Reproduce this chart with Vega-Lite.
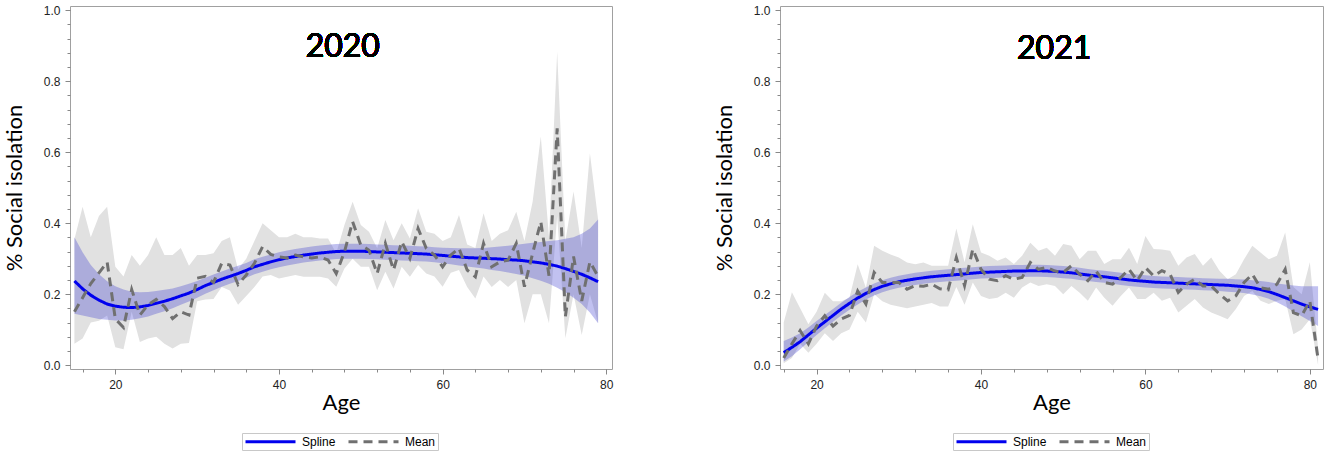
{
  "$schema": "https://vega.github.io/schema/vega-lite/v6.json",
  "padding": {"left": 2, "top": 3, "right": 5, "bottom": 0},
  "bounds": "flush",
  "spacing": 168,
  "config": {
    "view": {"stroke": "#a0a0a0", "strokeWidth": 1},
    "axis": {
      "grid": false,
      "domain": false,
      "tickColor": "#888888",
      "labelFont": "Liberation Sans",
      "labelFontSize": 12,
      "labelColor": "#222222",
      "labelOverlap": false,
      "labelFlush": false,
      "labelPadding": 5,
      "titleFont": "Lato",
      "titleFontSize": 22,
      "titleFontWeight": "normal",
      "titleColor": "#000000"
    },
    "legend": {
      "orient": "none",
      "legendY": 427,
      "direction": "horizontal",
      "title": null,
      "symbolType": "M-1,0H9",
      "symbolSize": 100,
      "symbolStrokeWidth": 3,
      "labelFont": "Liberation Sans",
      "labelFontSize": 12,
      "labelColor": "#000000",
      "labelOffset": 45,
      "columnPadding": 6,
      "strokeColor": "#c8c8c8",
      "fillColor": "#ffffff",
      "padding": 2
    }
  },
  "datasets": {
    "y2020": [
      {"age": 15, "mean": 0.15, "mlo": 0.06, "mhi": 0.355, "fit": 0.237, "flo": 0.145, "fhi": 0.36},
      {"age": 16, "mean": 0.19, "mlo": 0.075, "mhi": 0.446, "fit": 0.215, "flo": 0.14, "fhi": 0.318},
      {"age": 17, "mean": 0.23, "mlo": 0.12, "mhi": 0.36, "fit": 0.197, "flo": 0.135, "fhi": 0.282},
      {"age": 18, "mean": 0.26, "mlo": 0.125, "mhi": 0.42, "fit": 0.183, "flo": 0.13, "fhi": 0.256},
      {"age": 19, "mean": 0.29, "mlo": 0.14, "mhi": 0.446, "fit": 0.172, "flo": 0.128, "fhi": 0.236},
      {"age": 20, "mean": 0.13, "mlo": 0.05, "mhi": 0.277, "fit": 0.166, "flo": 0.126, "fhi": 0.222},
      {"age": 21, "mean": 0.106, "mlo": 0.045, "mhi": 0.25, "fit": 0.163, "flo": 0.126, "fhi": 0.213},
      {"age": 22, "mean": 0.213, "mlo": 0.15, "mhi": 0.31, "fit": 0.162, "flo": 0.128, "fhi": 0.207},
      {"age": 23, "mean": 0.141, "mlo": 0.065, "mhi": 0.28, "fit": 0.164, "flo": 0.132, "fhi": 0.205},
      {"age": 24, "mean": 0.17, "mlo": 0.075, "mhi": 0.31, "fit": 0.168, "flo": 0.137, "fhi": 0.206},
      {"age": 25, "mean": 0.185, "mlo": 0.08, "mhi": 0.36, "fit": 0.174, "flo": 0.145, "fhi": 0.209},
      {"age": 26, "mean": 0.165, "mlo": 0.06, "mhi": 0.31, "fit": 0.18, "flo": 0.152, "fhi": 0.212},
      {"age": 27, "mean": 0.131, "mlo": 0.047, "mhi": 0.31, "fit": 0.187, "flo": 0.16, "fhi": 0.216},
      {"age": 28, "mean": 0.15, "mlo": 0.06, "mhi": 0.33, "fit": 0.195, "flo": 0.17, "fhi": 0.222},
      {"age": 29, "mean": 0.141, "mlo": 0.062, "mhi": 0.28, "fit": 0.203, "flo": 0.179, "fhi": 0.229},
      {"age": 30, "mean": 0.245, "mlo": 0.18, "mhi": 0.31, "fit": 0.213, "flo": 0.19, "fhi": 0.237},
      {"age": 31, "mean": 0.25, "mlo": 0.185, "mhi": 0.31, "fit": 0.224, "flo": 0.201, "fhi": 0.246},
      {"age": 32, "mean": 0.233, "mlo": 0.186, "mhi": 0.315, "fit": 0.233, "flo": 0.211, "fhi": 0.255},
      {"age": 33, "mean": 0.287, "mlo": 0.22, "mhi": 0.35, "fit": 0.242, "flo": 0.221, "fhi": 0.264},
      {"age": 34, "mean": 0.282, "mlo": 0.21, "mhi": 0.36, "fit": 0.25, "flo": 0.229, "fhi": 0.272},
      {"age": 35, "mean": 0.227, "mlo": 0.17, "mhi": 0.27, "fit": 0.258, "flo": 0.237, "fhi": 0.28},
      {"age": 36, "mean": 0.254, "mlo": 0.195, "mhi": 0.3, "fit": 0.267, "flo": 0.246, "fhi": 0.288},
      {"age": 37, "mean": 0.287, "mlo": 0.22, "mhi": 0.35, "fit": 0.277, "flo": 0.256, "fhi": 0.298},
      {"age": 38, "mean": 0.334, "mlo": 0.25, "mhi": 0.4, "fit": 0.284, "flo": 0.263, "fhi": 0.305},
      {"age": 39, "mean": 0.312, "mlo": 0.254, "mhi": 0.38, "fit": 0.291, "flo": 0.27, "fhi": 0.312},
      {"age": 40, "mean": 0.305, "mlo": 0.244, "mhi": 0.36, "fit": 0.297, "flo": 0.276, "fhi": 0.318},
      {"age": 41, "mean": 0.302, "mlo": 0.249, "mhi": 0.36, "fit": 0.302, "flo": 0.281, "fhi": 0.323},
      {"age": 42, "mean": 0.31, "mlo": 0.254, "mhi": 0.37, "fit": 0.306, "flo": 0.285, "fhi": 0.327},
      {"age": 43, "mean": 0.305, "mlo": 0.249, "mhi": 0.36, "fit": 0.31, "flo": 0.289, "fhi": 0.331},
      {"age": 44, "mean": 0.302, "mlo": 0.249, "mhi": 0.36, "fit": 0.313, "flo": 0.292, "fhi": 0.334},
      {"age": 45, "mean": 0.305, "mlo": 0.249, "mhi": 0.357, "fit": 0.316, "flo": 0.295, "fhi": 0.337},
      {"age": 46, "mean": 0.296, "mlo": 0.244, "mhi": 0.357, "fit": 0.318, "flo": 0.297, "fhi": 0.339},
      {"age": 47, "mean": 0.258, "mlo": 0.221, "mhi": 0.315, "fit": 0.32, "flo": 0.299, "fhi": 0.341},
      {"age": 48, "mean": 0.319, "mlo": 0.272, "mhi": 0.395, "fit": 0.321, "flo": 0.3, "fhi": 0.342},
      {"age": 49, "mean": 0.404, "mlo": 0.3, "mhi": 0.46, "fit": 0.321, "flo": 0.3, "fhi": 0.342},
      {"age": 50, "mean": 0.338, "mlo": 0.277, "mhi": 0.395, "fit": 0.321, "flo": 0.3, "fhi": 0.342},
      {"age": 51, "mean": 0.324, "mlo": 0.277, "mhi": 0.376, "fit": 0.32, "flo": 0.299, "fhi": 0.341},
      {"age": 52, "mean": 0.258, "mlo": 0.211, "mhi": 0.329, "fit": 0.319, "flo": 0.298, "fhi": 0.34},
      {"age": 53, "mean": 0.343, "mlo": 0.263, "mhi": 0.409, "fit": 0.318, "flo": 0.297, "fhi": 0.339},
      {"age": 54, "mean": 0.268, "mlo": 0.216, "mhi": 0.352, "fit": 0.317, "flo": 0.296, "fhi": 0.338},
      {"age": 55, "mean": 0.348, "mlo": 0.277, "mhi": 0.4, "fit": 0.316, "flo": 0.295, "fhi": 0.337},
      {"age": 56, "mean": 0.301, "mlo": 0.249, "mhi": 0.357, "fit": 0.315, "flo": 0.294, "fhi": 0.336},
      {"age": 57, "mean": 0.385, "mlo": 0.282, "mhi": 0.442, "fit": 0.314, "flo": 0.293, "fhi": 0.335},
      {"age": 58, "mean": 0.329, "mlo": 0.258, "mhi": 0.376, "fit": 0.313, "flo": 0.292, "fhi": 0.334},
      {"age": 59, "mean": 0.31, "mlo": 0.25, "mhi": 0.37, "fit": 0.311, "flo": 0.29, "fhi": 0.332},
      {"age": 60, "mean": 0.277, "mlo": 0.221, "mhi": 0.35, "fit": 0.309, "flo": 0.287, "fhi": 0.331},
      {"age": 61, "mean": 0.31, "mlo": 0.26, "mhi": 0.36, "fit": 0.307, "flo": 0.284, "fhi": 0.33},
      {"age": 62, "mean": 0.329, "mlo": 0.268, "mhi": 0.423, "fit": 0.305, "flo": 0.281, "fhi": 0.329},
      {"age": 63, "mean": 0.268, "mlo": 0.22, "mhi": 0.34, "fit": 0.303, "flo": 0.278, "fhi": 0.329},
      {"age": 64, "mean": 0.249, "mlo": 0.188, "mhi": 0.33, "fit": 0.302, "flo": 0.275, "fhi": 0.329},
      {"age": 65, "mean": 0.343, "mlo": 0.25, "mhi": 0.428, "fit": 0.301, "flo": 0.272, "fhi": 0.33},
      {"age": 66, "mean": 0.277, "mlo": 0.22, "mhi": 0.35, "fit": 0.3, "flo": 0.268, "fhi": 0.332},
      {"age": 67, "mean": 0.291, "mlo": 0.24, "mhi": 0.37, "fit": 0.299, "flo": 0.265, "fhi": 0.334},
      {"age": 68, "mean": 0.296, "mlo": 0.22, "mhi": 0.38, "fit": 0.297, "flo": 0.261, "fhi": 0.336},
      {"age": 69, "mean": 0.343, "mlo": 0.24, "mhi": 0.432, "fit": 0.296, "flo": 0.257, "fhi": 0.339},
      {"age": 70, "mean": 0.221, "mlo": 0.118, "mhi": 0.35, "fit": 0.294, "flo": 0.252, "fhi": 0.342},
      {"age": 71, "mean": 0.315, "mlo": 0.2, "mhi": 0.46, "fit": 0.291, "flo": 0.245, "fhi": 0.345},
      {"age": 72, "mean": 0.404, "mlo": 0.2, "mhi": 0.644, "fit": 0.288, "flo": 0.238, "fhi": 0.347},
      {"age": 73, "mean": 0.252, "mlo": 0.118, "mhi": 0.36, "fit": 0.284, "flo": 0.229, "fhi": 0.35},
      {"age": 74, "mean": 0.667, "mlo": 0.42, "mhi": 0.883, "fit": 0.279, "flo": 0.218, "fhi": 0.352},
      {"age": 75, "mean": 0.136, "mlo": 0.076, "mhi": 0.35, "fit": 0.272, "flo": 0.205, "fhi": 0.356},
      {"age": 76, "mean": 0.306, "mlo": 0.2, "mhi": 0.489, "fit": 0.264, "flo": 0.19, "fhi": 0.36},
      {"age": 77, "mean": 0.181, "mlo": 0.085, "mhi": 0.33, "fit": 0.256, "flo": 0.172, "fhi": 0.37},
      {"age": 78, "mean": 0.291, "mlo": 0.2, "mhi": 0.597, "fit": 0.246, "flo": 0.148, "fhi": 0.385},
      {"age": 79, "mean": 0.25, "mlo": 0.118, "mhi": 0.41, "fit": 0.235, "flo": 0.118, "fhi": 0.41}
    ],
    "y2021": [
      {"age": 16, "mean": 0.02, "mlo": 0.005, "mhi": 0.12, "fit": 0.035, "flo": 0.01, "fhi": 0.068},
      {"age": 17, "mean": 0.06, "mlo": 0.02, "mhi": 0.205, "fit": 0.05, "flo": 0.025, "fhi": 0.078},
      {"age": 18, "mean": 0.097, "mlo": 0.06, "mhi": 0.16, "fit": 0.066, "flo": 0.045, "fhi": 0.09},
      {"age": 19, "mean": 0.06, "mlo": 0.035, "mhi": 0.115, "fit": 0.085, "flo": 0.065, "fhi": 0.106},
      {"age": 20, "mean": 0.11, "mlo": 0.06, "mhi": 0.15, "fit": 0.104, "flo": 0.085, "fhi": 0.124},
      {"age": 21, "mean": 0.139, "mlo": 0.09, "mhi": 0.204, "fit": 0.122, "flo": 0.104, "fhi": 0.141},
      {"age": 22, "mean": 0.11, "mlo": 0.068, "mhi": 0.18, "fit": 0.14, "flo": 0.122, "fhi": 0.158},
      {"age": 23, "mean": 0.13, "mlo": 0.09, "mhi": 0.18, "fit": 0.158, "flo": 0.14, "fhi": 0.176},
      {"age": 24, "mean": 0.14, "mlo": 0.1, "mhi": 0.19, "fit": 0.174, "flo": 0.156, "fhi": 0.192},
      {"age": 25, "mean": 0.209, "mlo": 0.15, "mhi": 0.284, "fit": 0.189, "flo": 0.171, "fhi": 0.207},
      {"age": 26, "mean": 0.172, "mlo": 0.12, "mhi": 0.218, "fit": 0.202, "flo": 0.185, "fhi": 0.219},
      {"age": 27, "mean": 0.261, "mlo": 0.2, "mhi": 0.336, "fit": 0.213, "flo": 0.196, "fhi": 0.23},
      {"age": 28, "mean": 0.233, "mlo": 0.18, "mhi": 0.322, "fit": 0.222, "flo": 0.205, "fhi": 0.239},
      {"age": 29, "mean": 0.233, "mlo": 0.17, "mhi": 0.312, "fit": 0.229, "flo": 0.212, "fhi": 0.246},
      {"age": 30, "mean": 0.233, "mlo": 0.165, "mhi": 0.303, "fit": 0.235, "flo": 0.218, "fhi": 0.252},
      {"age": 31, "mean": 0.214, "mlo": 0.16, "mhi": 0.289, "fit": 0.239, "flo": 0.222, "fhi": 0.256},
      {"age": 32, "mean": 0.224, "mlo": 0.165, "mhi": 0.284, "fit": 0.243, "flo": 0.226, "fhi": 0.26},
      {"age": 33, "mean": 0.222, "mlo": 0.17, "mhi": 0.289, "fit": 0.246, "flo": 0.229, "fhi": 0.263},
      {"age": 34, "mean": 0.228, "mlo": 0.175, "mhi": 0.28, "fit": 0.249, "flo": 0.232, "fhi": 0.266},
      {"age": 35, "mean": 0.215, "mlo": 0.165, "mhi": 0.28, "fit": 0.251, "flo": 0.234, "fhi": 0.268},
      {"age": 36, "mean": 0.212, "mlo": 0.165, "mhi": 0.28, "fit": 0.253, "flo": 0.236, "fhi": 0.27},
      {"age": 37, "mean": 0.303, "mlo": 0.22, "mhi": 0.385, "fit": 0.255, "flo": 0.238, "fhi": 0.272},
      {"age": 38, "mean": 0.224, "mlo": 0.17, "mhi": 0.29, "fit": 0.257, "flo": 0.24, "fhi": 0.274},
      {"age": 39, "mean": 0.327, "mlo": 0.233, "mhi": 0.397, "fit": 0.259, "flo": 0.242, "fhi": 0.276},
      {"age": 40, "mean": 0.27, "mlo": 0.195, "mhi": 0.317, "fit": 0.261, "flo": 0.244, "fhi": 0.278},
      {"age": 41, "mean": 0.242, "mlo": 0.186, "mhi": 0.308, "fit": 0.262, "flo": 0.245, "fhi": 0.279},
      {"age": 42, "mean": 0.238, "mlo": 0.19, "mhi": 0.294, "fit": 0.263, "flo": 0.246, "fhi": 0.28},
      {"age": 43, "mean": 0.252, "mlo": 0.204, "mhi": 0.303, "fit": 0.264, "flo": 0.247, "fhi": 0.281},
      {"age": 44, "mean": 0.242, "mlo": 0.19, "mhi": 0.285, "fit": 0.265, "flo": 0.248, "fhi": 0.282},
      {"age": 45, "mean": 0.247, "mlo": 0.219, "mhi": 0.308, "fit": 0.265, "flo": 0.248, "fhi": 0.282},
      {"age": 46, "mean": 0.289, "mlo": 0.233, "mhi": 0.345, "fit": 0.266, "flo": 0.249, "fhi": 0.283},
      {"age": 47, "mean": 0.27, "mlo": 0.223, "mhi": 0.322, "fit": 0.266, "flo": 0.249, "fhi": 0.283},
      {"age": 48, "mean": 0.275, "mlo": 0.228, "mhi": 0.331, "fit": 0.265, "flo": 0.248, "fhi": 0.282},
      {"age": 49, "mean": 0.265, "mlo": 0.223, "mhi": 0.308, "fit": 0.264, "flo": 0.247, "fhi": 0.281},
      {"age": 50, "mean": 0.261, "mlo": 0.2, "mhi": 0.341, "fit": 0.262, "flo": 0.245, "fhi": 0.279},
      {"age": 51, "mean": 0.28, "mlo": 0.223, "mhi": 0.336, "fit": 0.26, "flo": 0.243, "fhi": 0.277},
      {"age": 52, "mean": 0.256, "mlo": 0.204, "mhi": 0.298, "fit": 0.257, "flo": 0.24, "fhi": 0.274},
      {"age": 53, "mean": 0.238, "mlo": 0.181, "mhi": 0.322, "fit": 0.254, "flo": 0.237, "fhi": 0.271},
      {"age": 54, "mean": 0.265, "mlo": 0.219, "mhi": 0.322, "fit": 0.251, "flo": 0.234, "fhi": 0.268},
      {"age": 55, "mean": 0.233, "mlo": 0.19, "mhi": 0.285, "fit": 0.249, "flo": 0.232, "fhi": 0.266},
      {"age": 56, "mean": 0.228, "mlo": 0.167, "mhi": 0.298, "fit": 0.246, "flo": 0.229, "fhi": 0.263},
      {"age": 57, "mean": 0.247, "mlo": 0.195, "mhi": 0.298, "fit": 0.243, "flo": 0.226, "fhi": 0.26},
      {"age": 58, "mean": 0.27, "mlo": 0.219, "mhi": 0.331, "fit": 0.24, "flo": 0.223, "fhi": 0.257},
      {"age": 59, "mean": 0.238, "mlo": 0.186, "mhi": 0.285, "fit": 0.238, "flo": 0.221, "fhi": 0.255},
      {"age": 60, "mean": 0.275, "mlo": 0.186, "mhi": 0.364, "fit": 0.236, "flo": 0.219, "fhi": 0.253},
      {"age": 61, "mean": 0.251, "mlo": 0.204, "mhi": 0.327, "fit": 0.234, "flo": 0.217, "fhi": 0.251},
      {"age": 62, "mean": 0.266, "mlo": 0.181, "mhi": 0.326, "fit": 0.233, "flo": 0.216, "fhi": 0.25},
      {"age": 63, "mean": 0.256, "mlo": 0.19, "mhi": 0.322, "fit": 0.232, "flo": 0.215, "fhi": 0.249},
      {"age": 64, "mean": 0.205, "mlo": 0.148, "mhi": 0.28, "fit": 0.231, "flo": 0.214, "fhi": 0.248},
      {"age": 65, "mean": 0.228, "mlo": 0.167, "mhi": 0.303, "fit": 0.23, "flo": 0.213, "fhi": 0.247},
      {"age": 66, "mean": 0.242, "mlo": 0.186, "mhi": 0.313, "fit": 0.229, "flo": 0.212, "fhi": 0.246},
      {"age": 67, "mean": 0.223, "mlo": 0.162, "mhi": 0.28, "fit": 0.228, "flo": 0.211, "fhi": 0.245},
      {"age": 68, "mean": 0.223, "mlo": 0.148, "mhi": 0.303, "fit": 0.227, "flo": 0.21, "fhi": 0.244},
      {"age": 69, "mean": 0.2, "mlo": 0.139, "mhi": 0.266, "fit": 0.226, "flo": 0.209, "fhi": 0.243},
      {"age": 70, "mean": 0.181, "mlo": 0.129, "mhi": 0.242, "fit": 0.225, "flo": 0.207, "fhi": 0.243},
      {"age": 71, "mean": 0.195, "mlo": 0.158, "mhi": 0.256, "fit": 0.223, "flo": 0.205, "fhi": 0.242},
      {"age": 72, "mean": 0.233, "mlo": 0.195, "mhi": 0.298, "fit": 0.221, "flo": 0.203, "fhi": 0.241},
      {"age": 73, "mean": 0.256, "mlo": 0.209, "mhi": 0.336, "fit": 0.218, "flo": 0.199, "fhi": 0.239},
      {"age": 74, "mean": 0.218, "mlo": 0.181, "mhi": 0.317, "fit": 0.213, "flo": 0.194, "fhi": 0.237},
      {"age": 75, "mean": 0.214, "mlo": 0.172, "mhi": 0.298, "fit": 0.207, "flo": 0.187, "fhi": 0.234},
      {"age": 76, "mean": 0.228, "mlo": 0.181, "mhi": 0.308, "fit": 0.199, "flo": 0.177, "fhi": 0.23},
      {"age": 77, "mean": 0.27, "mlo": 0.186, "mhi": 0.374, "fit": 0.19, "flo": 0.165, "fhi": 0.227},
      {"age": 78, "mean": 0.148, "mlo": 0.087, "mhi": 0.22, "fit": 0.181, "flo": 0.151, "fhi": 0.224},
      {"age": 79, "mean": 0.139, "mlo": 0.1, "mhi": 0.2, "fit": 0.172, "flo": 0.138, "fhi": 0.222},
      {"age": 80, "mean": 0.181, "mlo": 0.129, "mhi": 0.29, "fit": 0.164, "flo": 0.124, "fhi": 0.222},
      {"age": 81, "mean": 0.017, "mlo": 0.0, "mhi": 0.05, "fit": 0.157, "flo": 0.11, "fhi": 0.222}
    ]
  },
  "resolve": {
    "scale": {"color": "independent", "strokeDash": "independent"},
    "legend": {"color": "independent", "strokeDash": "independent"}
  },
  "hconcat": [
    {
      "width": 542,
      "height": 363,
      "data": {"name": "y2020"},
      "resolve": {"axis": {"x": "independent", "y": "independent"}},
      "layer": [
        {
          "mark": {"type": "area", "color": "#e1e1e1"},
          "encoding": {
            "x": {
              "field": "age", "type": "quantitative", "title": "Age",
              "scale": {"domain": [14.46, 80.7], "nice": false, "zero": false},
              "axis": {"orient": "bottom", "values": [20, 40, 60, 80], "tickSize": 5, "titlePadding": 2}
            },
            "y": {
              "field": "mlo", "type": "quantitative", "title": "% Social isolation",
              "scale": {"domain": [-0.011, 1.012], "nice": false, "zero": false},
              "axis": {"orient": "left", "values": [0, 0.2, 0.4, 0.6, 0.8, 1.0], "format": ".1f", "tickSize": 5, "titlePadding": 17}
            },
            "y2": {"field": "mhi"}
          }
        },
        {
          "mark": {"type": "area", "color": "#3333cc", "opacity": 0.3},
          "encoding": {
            "x": {
              "field": "age", "type": "quantitative", "title": null,
              "axis": {"orient": "bottom", "values": [16, 20, 24, 28, 32, 36, 40, 44, 48, 52, 56, 60, 64, 68, 72, 76, 80], "labels": false, "tickSize": 3}
            },
            "y": {
              "field": "flo", "type": "quantitative", "title": null,
              "axis": {"orient": "left", "values": [0, 0.04, 0.08, 0.12, 0.16, 0.2, 0.24, 0.28, 0.32, 0.36, 0.4, 0.44, 0.48, 0.52, 0.56, 0.6, 0.64, 0.68, 0.72, 0.76, 0.8, 0.84, 0.88, 0.92, 0.96, 1.0], "labels": false, "tickSize": 3}
            },
            "y2": {"field": "fhi"}
          }
        },
        {
          "mark": {"type": "line", "strokeWidth": 3},
          "encoding": {
            "x": {"field": "age", "type": "quantitative", "axis": null},
            "y": {"field": "fit", "type": "quantitative", "axis": null},
            "color": {
              "datum": "Spline", "type": "nominal",
              "scale": {"domain": ["Spline", "Mean"], "range": ["#0000ee", "#707070"]},
              "legend": {"legendX": 172}
            },
            "strokeDash": {
              "datum": "Spline", "type": "nominal",
              "scale": {"domain": ["Spline", "Mean"], "range": [[1, 0], [9, 6]]},
              "legend": {"legendX": 172}
            }
          }
        },
        {
          "mark": {"type": "line", "strokeWidth": 3},
          "encoding": {
            "x": {"field": "age", "type": "quantitative", "axis": null},
            "y": {"field": "mean", "type": "quantitative", "axis": null},
            "color": {"datum": "Mean", "type": "nominal"},
            "strokeDash": {"datum": "Mean", "type": "nominal"}
          }
        },
        {
          "mark": {"type": "text", "font": "Lato", "fontSize": 32, "fontWeight": "normal", "align": "center", "baseline": "middle", "color": "#000000"},
          "encoding": {
            "x": {"datum": 47.8, "type": "quantitative", "axis": null},
            "y": {"datum": 0.897, "type": "quantitative", "axis": null},
            "text": {"value": "2020"}
          }
        }
      ]
    },
    {
      "width": 543,
      "height": 363,
      "data": {"name": "y2021"},
      "resolve": {"axis": {"x": "independent", "y": "independent"}},
      "layer": [
        {
          "mark": {"type": "area", "color": "#e1e1e1"},
          "encoding": {
            "x": {
              "field": "age", "type": "quantitative", "title": "Age",
              "scale": {"domain": [15.55, 81.6], "nice": false, "zero": false},
              "axis": {"orient": "bottom", "values": [20, 40, 60, 80], "tickSize": 5, "titlePadding": 2}
            },
            "y": {
              "field": "mlo", "type": "quantitative", "title": "% Social isolation",
              "scale": {"domain": [-0.011, 1.012], "nice": false, "zero": false},
              "axis": {"orient": "left", "values": [0, 0.2, 0.4, 0.6, 0.8, 1.0], "format": ".1f", "tickSize": 5, "titlePadding": 17}
            },
            "y2": {"field": "mhi"}
          }
        },
        {
          "mark": {"type": "area", "color": "#3333cc", "opacity": 0.3},
          "encoding": {
            "x": {
              "field": "age", "type": "quantitative", "title": null,
              "axis": {"orient": "bottom", "values": [16, 20, 24, 28, 32, 36, 40, 44, 48, 52, 56, 60, 64, 68, 72, 76, 80], "labels": false, "tickSize": 3}
            },
            "y": {
              "field": "flo", "type": "quantitative", "title": null,
              "axis": {"orient": "left", "values": [0, 0.04, 0.08, 0.12, 0.16, 0.2, 0.24, 0.28, 0.32, 0.36, 0.4, 0.44, 0.48, 0.52, 0.56, 0.6, 0.64, 0.68, 0.72, 0.76, 0.8, 0.84, 0.88, 0.92, 0.96, 1.0], "labels": false, "tickSize": 3}
            },
            "y2": {"field": "fhi"}
          }
        },
        {
          "mark": {"type": "line", "strokeWidth": 3},
          "encoding": {
            "x": {"field": "age", "type": "quantitative", "axis": null},
            "y": {"field": "fit", "type": "quantitative", "axis": null},
            "color": {
              "datum": "Spline", "type": "nominal",
              "scale": {"domain": ["Spline", "Mean"], "range": ["#0000ee", "#707070"]},
              "legend": {"legendX": 173}
            },
            "strokeDash": {
              "datum": "Spline", "type": "nominal",
              "scale": {"domain": ["Spline", "Mean"], "range": [[1, 0], [9, 6]]},
              "legend": {"legendX": 173}
            }
          }
        },
        {
          "mark": {"type": "line", "strokeWidth": 3},
          "encoding": {
            "x": {"field": "age", "type": "quantitative", "axis": null},
            "y": {"field": "mean", "type": "quantitative", "axis": null},
            "color": {"datum": "Mean", "type": "nominal"},
            "strokeDash": {"datum": "Mean", "type": "nominal"}
          }
        },
        {
          "mark": {"type": "text", "font": "Lato", "fontSize": 32, "fontWeight": "normal", "align": "center", "baseline": "middle", "color": "#000000"},
          "encoding": {
            "x": {"datum": 48.9, "type": "quantitative", "axis": null},
            "y": {"datum": 0.892, "type": "quantitative", "axis": null},
            "text": {"value": "2021"}
          }
        }
      ]
    }
  ]
}
